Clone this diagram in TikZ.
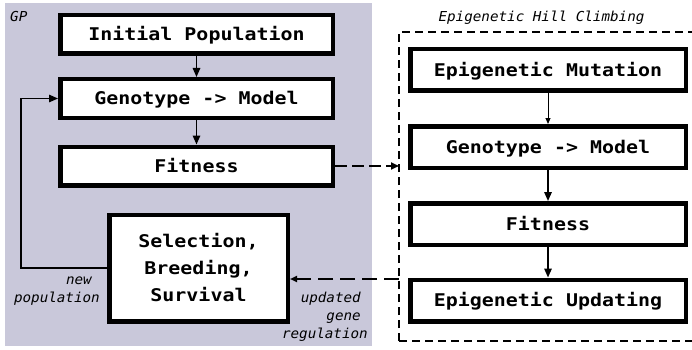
\documentclass[tikz,border=0pt]{standalone}
\usepackage{fontspec}
\usetikzlibrary{arrows.meta}
\newfontfamily\boxfont[FakeStretch=1.14]{DejaVu Sans Mono}
\newfontfamily\labfont[FakeStretch=1.04]{DejaVu Sans Mono}
\definecolor{gpgray}{RGB}{201,200,218}
\begin{document}
\begin{tikzpicture}[x=1pt,y=-1pt,
  stagebox/.style={draw, line width=4.5pt, fill=white, inner sep=0pt,
    font=\boxfont\bfseries\fontsize{17.5}{27}\selectfont},
  onerow/.style={text height=12.7pt, text depth=0pt},
  leftbox/.style={stagebox, onerow, minimum width=272.5pt, minimum height=38.5pt},
  rightbox/.style={stagebox, onerow, minimum width=275.5pt, minimum height=41.5pt},
  lab/.style={font=\labfont\itshape\fontsize{13.7}{18}\selectfont, inner sep=0pt},
  arr/.style={line width=1.5pt, -{Triangle[length=9pt,width=7.5pt]}},
  thinarr/.style={line width=1pt, -{Triangle[length=6pt,width=5pt]}},
  dasharr/.style={line width=1.8pt, dash pattern=on 12pt off 5pt, -{Triangle[length=8pt,width=7pt]}},
  retarr/.style={line width=2pt, dash pattern=on 15pt off 7pt, -{Triangle[length=7pt,width=6pt]}},
  hcframe/.style={line width=2pt, dash pattern=on 8pt off 5pt}]
\useasboundingbox (0,0) rectangle (692,350);
\fill[gpgray] (5,3) rectangle (372,346);
\draw[hcframe] (399,341) -- (399,32) -- (692,32);
\draw[hcframe] (399,341) -- (692,341);

\node[lab, anchor=base west] (gp) at (10,22) {GP};
\node[lab, anchor=base] (hc) at (541.5,22) {Epigenetic Hill Climbing};

% GP column
\node[leftbox] (ip) at (196.5,34.5) {Initial Population};
\node[leftbox] (gm1) at (196.5,98.5) {Genotype -> Model};
\node[leftbox] (fit1) at (196.5,166) {Fitness};
\node[stagebox, align=center, minimum width=178.5pt, minimum height=106.5pt] (sel) at (198.5,268)
  {Selection,\\Breeding,\\Survival};

% Hill climbing column
\node[rightbox] (em) at (548,70) {Epigenetic Mutation};
\node[rightbox] (gm2) at (548,147) {Genotype -> Model};
\node[rightbox] (fit2) at (548,224) {Fitness};
\node[rightbox] (eu) at (548,300.5) {Epigenetic Updating};

\coordinate (hcin) at (399,166);
\coordinate (hcout) at (399,279);

\draw[arr] (ip) -- (gm1);
\draw[arr] (gm1) -- (fit1);
\draw[arr] (sel.west) -- ++(-86,0) |- (gm1.west);
\draw[dasharr] (fit1.east) -- (hcin);
\draw[retarr] (hcout) -- (sel.east |- hcout);

\draw[thinarr] (em) -- (gm2);
\draw[arr] (gm2) -- (fit2);
\draw[arr] (fit2) -- (eu);

\node[lab, anchor=base east] (newl) at (92,284) {new};
\node[lab, anchor=base east] (popl) at (100,302) {population};
\node[lab, anchor=base east] (upd) at (361,302) {updated};
\node[lab, anchor=base east] (gene) at (361,320) {gene};
\node[lab, anchor=base east] (reg) at (368,338) {regulation};
\end{tikzpicture}
\end{document}
